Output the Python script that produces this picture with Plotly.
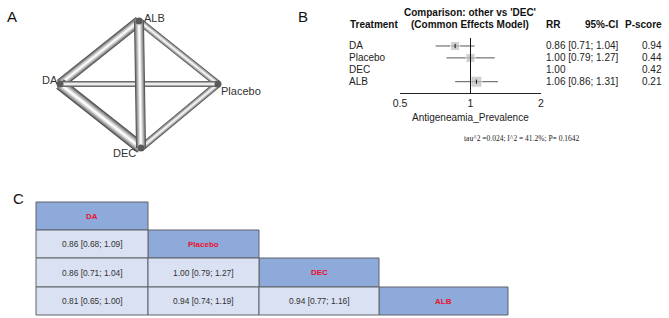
import math
import plotly.graph_objects as go

W, H = 669, 318

# ---------------- Panel A: network ----------------
net_nodes = ["DA", "ALB", "Placebo", "DEC"]
net_edge_from = ["DA", "DA", "ALB", "Placebo", "DA", "ALB"]
net_edge_to = ["ALB", "DEC", "Placebo", "DEC", "Placebo", "DEC"]
net_edge_weight = [10, 12, 7, 7, 6, 10]

# ---------------- Panel B: forest ----------------
treatments = ["DA", "Placebo", "DEC", "ALB"]
rr = [0.86, 1.00, 1.00, 1.06]
ci_lo = [0.71, 0.79, None, 0.86]
ci_hi = [1.04, 1.27, None, 1.31]
pscore = ["0.94", "0.44", "0.42", "0.21"]
box_size = [9, 9, 0, 11]
forest_ticks = [0.5, 1, 2]
forest_ticktext = ["0.5", "1", "2"]
stats_text = "tau^2 =0.024; I^2 = 41.2%; P= 0.1642"

# ---------------- Panel C: league table ----------------
league_names = ["DA", "Placebo", "DEC", "ALB"]
league_values = [
    [],
    ["0.86 [0.68; 1.09]"],
    ["0.86 [0.71; 1.04]", "1.00 [0.79; 1.27]"],
    ["0.81 [0.65; 1.00]", "0.94 [0.74; 1.19]", "0.94 [0.77; 1.16]"],
]

# layout (pixel) geometry
node_pos = {"DA": (60, 84), "ALB": (139, 21), "Placebo": (218, 84), "DEC": (141, 148)}
col_edges = [36, 148, 259, 379, 508]
row_edges = [202, 230, 258, 287, 315]

fig = go.Figure()
ann = []
shapes = []

# network edges drawn as layered tubes
for a, b, w in zip(net_edge_from, net_edge_to, net_edge_weight):
    xa, ya = node_pos[a]
    xb, yb = node_pos[b]
    for frac, col in [(1.0, "#505050"), (0.82, "#858585"), (0.6, "#b4b4b4"), (0.36, "#dedede"), (0.14, "#ffffff")]:
        fig.add_trace(go.Scatter(x=[xa, xb], y=[ya, yb], mode="lines",
                                 line=dict(color=col, width=w * frac),
                                 hoverinfo="skip", showlegend=False,
                                 xaxis="x", yaxis="y"))
fig.add_trace(go.Scatter(x=[node_pos[n][0] for n in net_nodes],
                         y=[node_pos[n][1] for n in net_nodes],
                         mode="markers", marker=dict(size=7, color="#5a5a5a"),
                         hoverinfo="skip", showlegend=False, xaxis="x", yaxis="y"))

net_label = {"DA": (60, 80, "right"), "ALB": (142, 18, "left"),
             "Placebo": (219, 91, "left"), "DEC": (124, 153, "center")}
for n in net_nodes:
    x, y, xa = net_label[n]
    ann.append(dict(x=x, y=y, xref="x", yref="y", text=n, showarrow=False,
                    xanchor=xa, yanchor="middle",
                    font=dict(family="Liberation Sans", size=11, color="#333333")))

# panel letters
for letter, x, y in [("A", 5, 16), ("B", 296, 16), ("C", 11, 198)]:
    ann.append(dict(x=x, y=y, xref="x", yref="y", text=letter, showarrow=False,
                    xanchor="left", yanchor="middle",
                    font=dict(family="Liberation Sans", size=15, color="#111111")))

# ---------------- forest traces ----------------
idx = [i + 1 for i in range(len(treatments))]
fx, fy, ep, em, fs = [], [], [], [], []
for i, t in enumerate(treatments):
    if ci_lo[i] is None:
        continue
    fx.append(rr[i]); fy.append(idx[i])
    ep.append(ci_hi[i] - rr[i]); em.append(rr[i] - ci_lo[i])
    fs.append(box_size[i])
fig.add_trace(go.Scatter(x=fx, y=fy, mode="markers", xaxis="x2", yaxis="y2",
                         marker=dict(symbol="square", size=fs, color="#bdbdbd"),
                         error_x=dict(type="data", array=ep, arrayminus=em,
                                      color="#555555", thickness=1, width=0),
                         hoverinfo="skip", showlegend=False))
fig.add_trace(go.Scatter(x=fx, y=fy, mode="markers", xaxis="x2", yaxis="y2",
                         marker=dict(symbol="line-ns", size=3,
                                     line=dict(color="#111111", width=1)),
                         hoverinfo="skip", showlegend=False))

shapes.append(dict(type="line", xref="x2", yref="y2", x0=1, x1=1, y0=0.33, y1=4.95,
                   line=dict(color="#111111", width=1)))

ff = "Liberation Sans"
hdr = dict(family=ff, size=10, color="#111111")
ann.append(dict(x=470, y=12, xref="x", yref="y", text="<b>Comparison: other vs 'DEC'</b>",
                showarrow=False, xanchor="center", yanchor="middle", font=hdr))
ann.append(dict(x=470, y=24, xref="x", yref="y", text="<b>(Common Effects Model)</b>",
                showarrow=False, xanchor="center", yanchor="middle", font=hdr))
ann.append(dict(x=348, y=24, xref="x", yref="y", text="<b>Treatment</b>",
                showarrow=False, xanchor="left", yanchor="middle", font=hdr))
ann.append(dict(x=553, y=24, xref="x", yref="y", text="<b>RR</b>",
                showarrow=False, xanchor="center", yanchor="middle", font=hdr))
ann.append(dict(x=621, y=24, xref="x", yref="y", text="<b>95%-CI</b>",
                showarrow=False, xanchor="right", yanchor="middle", font=hdr))
ann.append(dict(x=664, y=24, xref="x", yref="y", text="<b>P-score</b>",
                showarrow=False, xanchor="right", yanchor="middle", font=hdr))

body = dict(family=ff, size=10, color="#222222")
for i, t in enumerate(treatments):
    ann.append(dict(x=347, y=idx[i], xref="x", yref="y2", text=t, showarrow=False,
                    xanchor="left", yanchor="middle", font=body))
    if ci_lo[i] is None:
        txt = f"{rr[i]:.2f}"
    else:
        txt = f"{rr[i]:.2f} [{ci_lo[i]:.2f}; {ci_hi[i]:.2f}]"
    ann.append(dict(x=544, y=idx[i], xref="x", yref="y2", text=txt, showarrow=False,
                    xanchor="left", yanchor="middle", font=body))
    ann.append(dict(x=664, y=idx[i], xref="x", yref="y2", text=pscore[i], showarrow=False,
                    xanchor="right", yanchor="middle", font=body))

ann.append(dict(x=470, y=117, xref="x", yref="y", text="Antigeneamia_Prevalence",
                showarrow=False, xanchor="center", yanchor="middle", font=body))
ann.append(dict(x=522, y=138, xref="x", yref="y", text=stats_text, showarrow=False,
                xanchor="center", yanchor="middle",
                font=dict(family="Liberation Serif", size=7.5, color="#222222")))

# ---------------- league table shapes ----------------
hdr_fill = "#8eaadb"
body_fill = "#d9e1f2"
border = "#5f6368"
for r in range(len(league_names)):
    shapes.append(dict(type="rect", xref="x", yref="y",
                       x0=col_edges[r], x1=col_edges[r + 1],
                       y0=row_edges[r], y1=row_edges[r + 1],
                       fillcolor=hdr_fill, line=dict(color=border, width=1), layer="below"))
    ann.append(dict(x=(col_edges[r] + col_edges[r + 1]) / 2,
                    y=(row_edges[r] + row_edges[r + 1]) / 2,
                    xref="x", yref="y", text=f"<b>{league_names[r]}</b>", showarrow=False,
                    xanchor="center", yanchor="middle",
                    font=dict(family=ff, size=8, color="#e8112d")))
    for c, v in enumerate(league_values[r]):
        shapes.append(dict(type="rect", xref="x", yref="y",
                           x0=col_edges[c], x1=col_edges[c + 1],
                           y0=row_edges[r], y1=row_edges[r + 1],
                           fillcolor=body_fill, line=dict(color=border, width=1), layer="below"))
        ann.append(dict(x=(col_edges[c] + col_edges[c + 1]) / 2,
                        y=(row_edges[r] + row_edges[r + 1]) / 2,
                        xref="x", yref="y", text=v, showarrow=False,
                        xanchor="center", yanchor="middle",
                        font=dict(family=ff, size=8.4, color="#333333")))

y2_bottom = (H - 93) / H
y2_top = (H - 38) / H

fig.update_layout(
    template="none",
    width=W, height=H, margin=dict(l=0, r=0, t=0, b=0, pad=0, autoexpand=False),
    paper_bgcolor="white", plot_bgcolor="rgba(0,0,0,0)",
    showlegend=False,
    xaxis=dict(range=[0, W], domain=[0, 1], visible=False, fixedrange=True, automargin=False),
    yaxis=dict(range=[H, 0], domain=[0, 1], visible=False, fixedrange=True, automargin=False),
    xaxis2=dict(type="log", range=[math.log10(0.5), math.log10(2)],
                domain=[400 / W, 541 / W], anchor="y2", automargin=False,
                showline=True, linecolor="#222222", linewidth=1,
                ticks="inside", ticklen=5, tickcolor="#222222",
                tickvals=forest_ticks, ticktext=forest_ticktext,
                tickfont=dict(family=ff, size=10.5, color="#222222"),
                showgrid=False, zeroline=False, fixedrange=True),
    yaxis2=dict(range=[4.95, 0.33], domain=[y2_bottom, y2_top], anchor="x2",
                automargin=False,
                visible=False, showgrid=False, zeroline=False, fixedrange=True),
    annotations=ann, shapes=shapes,
)

fig.write_html("out.html", config={"displayModeBar": False},
               post_script="document.body.style.margin='0';document.body.style.padding='0';")
